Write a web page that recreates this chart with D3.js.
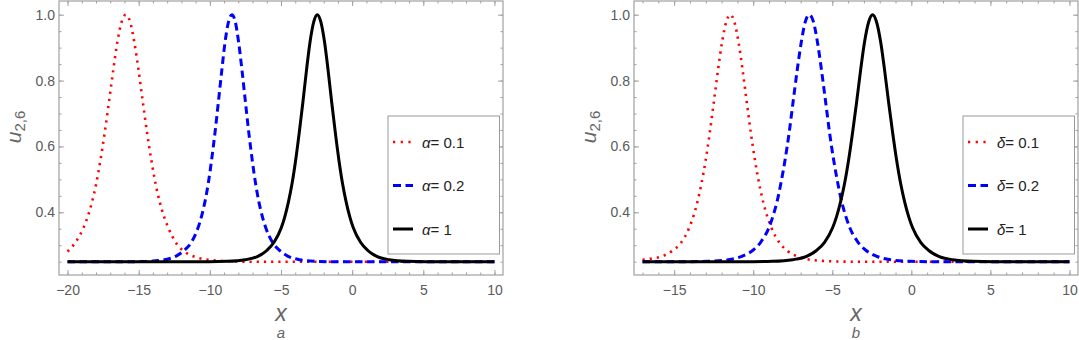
<!DOCTYPE html>
<html><head><meta charset="utf-8">
<script src="https://cdn.jsdelivr.net/npm/d3@7"></script>
<style>body{margin:0;background:#fff}svg{display:block}</style>
</head><body>
<svg id="chart" width="1079" height="340"></svg>
<script>
// ---------- data ----------
const xRangeA = [-20, 10];
const xRangeB = [-17, 10];
const yRange = [0.2096, 1.0416];
const xTicksA = [-20, -15, -10, -5, 0, 5, 10];
const xTicksB = [-15, -10, -5, 0, 5, 10];
const yTicks = [0.4, 0.6, 0.8, 1.0];
const legendValues = ["0.1", "0.2", "1"];
const symbolA = "α";
const symbolB = "δ";
const panelTags = ["a", "b"];

// panel a
const redAX = [-20, -19.47, -18.88, -18.58, -18.28, -17.98, -17.69, -17.39, -17.09, -16.79, -16.5, -16.2, -15.9, -15.6, -15.31, -15.01, -14.71, -14.41, -14.11, -13.82, -13.52, -13.22, -12.92, -12.33, -11.73, -10.99, -9.95, -8.46, -6.97, 10];
const redAY = [0.281, 0.307, 0.353, 0.387, 0.431, 0.488, 0.558, 0.641, 0.735, 0.831, 0.917, 0.978, 1.0, 0.978, 0.917, 0.831, 0.735, 0.641, 0.558, 0.488, 0.431, 0.387, 0.353, 0.304, 0.279, 0.264, 0.255, 0.251, 0.25, 0.25];
const blueAX = [-20, -15.58, -14.39, -13.2, -12.37, -11.78, -11.3, -10.83, -10.59, -10.35, -10.11, -9.88, -9.64, -9.4, -9.16, -8.93, -8.69, -8.45, -8.21, -7.98, -7.74, -7.5, -7.26, -7.02, -6.79, -6.55, -6.31, -6.07, -5.6, -5.12, -4.53, -3.7, -2.51, -1.32, 10];
const blueAY = [0.25, 0.25, 0.251, 0.256, 0.267, 0.285, 0.309, 0.353, 0.387, 0.431, 0.488, 0.558, 0.641, 0.735, 0.831, 0.917, 0.978, 1.0, 0.978, 0.917, 0.831, 0.735, 0.641, 0.558, 0.488, 0.431, 0.387, 0.353, 0.309, 0.285, 0.267, 0.256, 0.251, 0.25, 0.25];
const blackAX = [-20, -10.05, -8.78, -7.51, -6.63, -6.0, -5.49, -4.98, -4.73, -4.48, -4.22, -3.97, -3.72, -3.46, -3.21, -2.96, -2.7, -2.45, -2.2, -1.94, -1.69, -1.44, -1.18, -0.93, -0.68, -0.42, -0.17, 0.08, 0.59, 1.1, 1.73, 2.61, 3.88, 5.15, 10];
const blackAY = [0.25, 0.25, 0.251, 0.256, 0.266, 0.284, 0.309, 0.353, 0.387, 0.431, 0.488, 0.558, 0.641, 0.735, 0.831, 0.917, 0.978, 1.0, 0.978, 0.917, 0.831, 0.735, 0.641, 0.558, 0.488, 0.431, 0.387, 0.353, 0.309, 0.284, 0.266, 0.256, 0.251, 0.25, 0.25];

// panel b
const redBX = [-17, -16.65, -15.74, -15.09, -14.57, -14.05, -13.79, -13.53, -13.27, -13.01, -12.75, -12.49, -12.23, -11.97, -11.71, -11.45, -11.19, -10.93, -10.67, -10.41, -10.15, -9.89, -9.63, -9.37, -9.11, -8.85, -8.33, -7.81, -7.16, -6.25, -4.96, -3.66, 10];
const redBY = [0.256, 0.258, 0.267, 0.284, 0.307, 0.353, 0.387, 0.431, 0.488, 0.558, 0.641, 0.735, 0.831, 0.917, 0.978, 1.0, 0.978, 0.917, 0.831, 0.735, 0.641, 0.558, 0.488, 0.431, 0.387, 0.353, 0.307, 0.282, 0.265, 0.255, 0.251, 0.25, 0.25];
const blueBX = [-17, -14.14, -12.86, -11.58, -10.68, -10.04, -9.53, -9.01, -8.76, -8.5, -8.25, -7.99, -7.73, -7.48, -7.22, -6.96, -6.71, -6.45, -6.19, -5.94, -5.68, -5.42, -5.17, -4.91, -4.65, -4.4, -4.14, -3.89, -3.37, -2.86, -2.22, -1.32, -0.04, 1.24, 10];
const blueBY = [0.25, 0.25, 0.251, 0.256, 0.267, 0.284, 0.309, 0.353, 0.387, 0.431, 0.488, 0.558, 0.641, 0.735, 0.831, 0.917, 0.978, 1.0, 0.978, 0.917, 0.831, 0.735, 0.641, 0.558, 0.488, 0.431, 0.387, 0.353, 0.309, 0.284, 0.267, 0.256, 0.251, 0.25, 0.25];
const blackBX = [-17, -10.05, -8.78, -7.51, -6.63, -6.0, -5.49, -4.98, -4.73, -4.48, -4.22, -3.97, -3.72, -3.46, -3.21, -2.96, -2.7, -2.45, -2.2, -1.94, -1.69, -1.44, -1.18, -0.93, -0.68, -0.42, -0.17, 0.08, 0.59, 1.1, 1.73, 2.61, 3.88, 5.15, 10];
const blackBY = [0.25, 0.25, 0.251, 0.256, 0.266, 0.284, 0.309, 0.353, 0.387, 0.431, 0.488, 0.558, 0.641, 0.735, 0.831, 0.917, 0.978, 1.0, 0.978, 0.917, 0.831, 0.735, 0.641, 0.558, 0.488, 0.431, 0.387, 0.353, 0.309, 0.284, 0.266, 0.256, 0.251, 0.25, 0.25];

// ---------- styles ----------
const styles = [
  {color: "#ff0000", width: 2.6, dash: "2.2,5"},
  {color: "#0000ff", width: 3, dash: "7.5,4.5"},
  {color: "#000000", width: 3, dash: null}
];
const FONT = "'Liberation Sans', Arial, Helvetica, sans-serif";
const frameColor = "#a0a0a0";
const tickTextColor = "#5a5a5a";
const labelColor = "#666666";

const svg = d3.select("#chart");

function drawPanel(cfg) {
  const fx0 = cfg.fx0, fx1 = cfg.fx1, fy0 = 1, fy1 = 275;
  const span = cfg.xr[1] - cfg.xr[0];
  const x = d3.scaleLinear().domain([cfg.xr[0] - 0.02 * span, cfg.xr[1] + 0.02 * span]).range([fx0, fx1]);
  const y = d3.scaleLinear().domain(yRange).range([fy1, fy0]);
  const g = svg.append("g");

  const xMinor = d3.range(Math.ceil(cfg.xr[0]), cfg.xr[1] + 0.5, 1);
  const yMinor = d3.range(0.25, 1.001, 0.05);

  function styleAxis(sel, labels) {
    sel.select(".domain").remove();
    sel.selectAll(".tick line").attr("stroke", frameColor).attr("stroke-width", 1);
    sel.selectAll(".tick text").attr("fill", tickTextColor).style("font-family", FONT).style("font-size", "14px");
    if (!labels) sel.selectAll(".tick text").remove();
  }
  // bottom
  g.append("g").attr("transform", `translate(0,${fy1})`)
    .call(d3.axisBottom(x).tickValues(xMinor).tickSize(-2.5).tickFormat(""))
    .call(s => styleAxis(s, false));
  g.append("g").attr("transform", `translate(0,${fy1})`)
    .call(d3.axisBottom(x).tickValues(cfg.xTicks).tickSize(-5).tickPadding(10).tickFormat(d => d < 0 ? "\u2212" + Math.abs(d) : String(d)))
    .call(s => styleAxis(s, true));
  // top
  g.append("g").attr("transform", `translate(0,${fy0})`)
    .call(d3.axisTop(x).tickValues(xMinor).tickSize(-2.5).tickFormat(""))
    .call(s => styleAxis(s, false));
  g.append("g").attr("transform", `translate(0,${fy0})`)
    .call(d3.axisTop(x).tickValues(cfg.xTicks).tickSize(-5).tickFormat(""))
    .call(s => styleAxis(s, false));
  // left
  g.append("g").attr("transform", `translate(${fx0},0)`)
    .call(d3.axisLeft(y).tickValues(yMinor).tickSize(-2.5).tickFormat(""))
    .call(s => styleAxis(s, false));
  g.append("g").attr("transform", `translate(${fx0},0)`)
    .call(d3.axisLeft(y).tickValues(yTicks).tickSize(-5).tickPadding(4).tickFormat(d3.format(".1f")))
    .call(s => styleAxis(s, true));
  // right
  g.append("g").attr("transform", `translate(${fx1},0)`)
    .call(d3.axisRight(y).tickValues(yMinor).tickSize(-2.5).tickFormat(""))
    .call(s => styleAxis(s, false));
  g.append("g").attr("transform", `translate(${fx1},0)`)
    .call(d3.axisRight(y).tickValues(yTicks).tickSize(-5).tickFormat(""))
    .call(s => styleAxis(s, false));

  // frame
  g.append("rect").attr("x", fx0).attr("y", fy0).attr("width", fx1 - fx0).attr("height", fy1 - fy0)
    .attr("fill", "none").attr("stroke", frameColor).attr("stroke-width", 1.2);

  // curves
  const line = d3.line().x(d => x(d[0])).y(d => y(d[1])).curve(d3.curveMonotoneX);
  cfg.series.forEach((s, i) => {
    const pts = s[0].map((v, j) => [v, s[1][j]]);
    const p = g.append("path").attr("d", line(pts)).attr("fill", "none")
      .attr("stroke", styles[i].color).attr("stroke-width", styles[i].width)
      .attr("stroke-linejoin", "round");
    if (styles[i].dash) p.attr("stroke-dasharray", styles[i].dash);
  });

  // axis labels
  const cx = (fx0 + fx1) / 2;
  g.append("text").attr("x", cx).attr("y", 321).attr("text-anchor", "middle")
    .style("font-family", FONT).style("font-size", "23px").style("font-style", "italic")
    .attr("fill", labelColor).text("x");
  g.append("text").attr("x", cx).attr("y", 338).attr("text-anchor", "middle")
    .style("font-family", FONT).style("font-size", "15px").style("font-style", "italic")
    .attr("fill", labelColor).text(cfg.tag);
  const yl = g.append("text").attr("transform", `translate(${fx0 - 38},127) rotate(-90)`)
    .attr("text-anchor", "middle").style("font-family", FONT).attr("fill", labelColor);
  yl.append("tspan").style("font-size", "21px").style("font-style", "italic").text("u");
  yl.append("tspan").style("font-size", "15px").attr("dy", 4).text("2,6");

  // legend
  const bx0 = fx1 - 115, bx1 = fx1 - 3.5, by0 = 116, by1 = 254;
  g.append("rect").attr("x", bx0).attr("y", by0).attr("width", bx1 - bx0).attr("height", by1 - by0)
    .attr("fill", "#fff").attr("stroke", "#9a9a9a").attr("stroke-width", 1);
  const rowY = [142, 185.5, 229];
  legendValues.forEach((v, i) => {
    const ly = rowY[i];
    const p = g.append("line").attr("x1", bx0 + 5).attr("x2", bx0 + 25).attr("y1", ly).attr("y2", ly)
      .attr("stroke", styles[i].color).attr("stroke-width", styles[i].width);
    if (styles[i].dash) p.attr("stroke-dasharray", i === 0 ? "2.2,5.5" : "8,4.5");
    const t = g.append("text").attr("x", bx0 + 34).attr("y", ly + 5.5)
      .style("font-family", FONT).style("font-size", "15px").attr("fill", "#222");
    t.append("tspan").style("font-style", "italic").text(cfg.symbol);
    t.append("tspan").text("= " + v);
  });
}

drawPanel({fx0: 59, fx1: 503, xr: xRangeA, xTicks: xTicksA, symbol: symbolA, tag: panelTags[0],
  series: [[redAX, redAY], [blueAX, blueAY], [blackAX, blackAY]]});
drawPanel({fx0: 634, fx1: 1078, xr: xRangeB, xTicks: xTicksB, symbol: symbolB, tag: panelTags[1],
  series: [[redBX, redBY], [blueBX, blueBY], [blackBX, blackBY]]});
</script>
</body></html>
